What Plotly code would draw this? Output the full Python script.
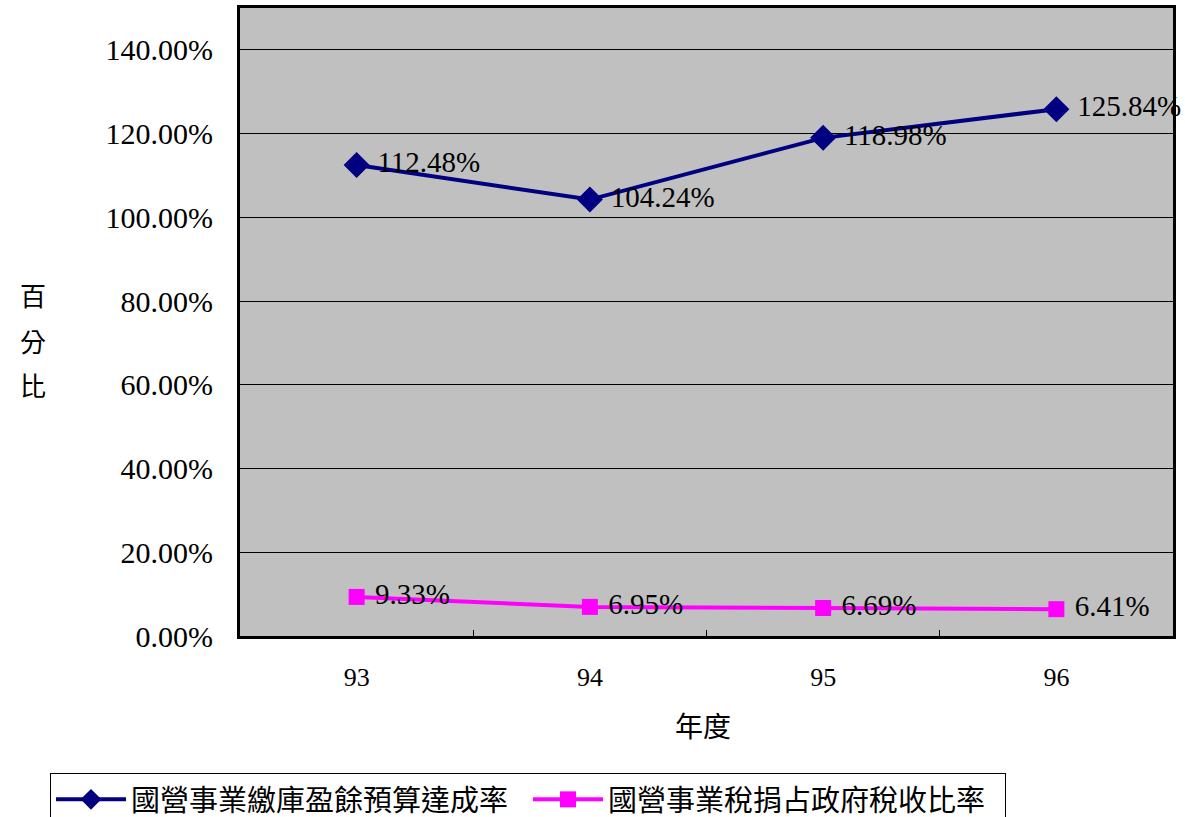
import plotly.graph_objects as go

years = ["93", "94", "95", "96"]
series1_name = "國營事業繳庫盈餘預算達成率"
series1 = [1.1248, 1.0424, 1.1898, 1.2584]
series2_name = "國營事業稅捐占政府稅收比率"
series2 = [0.0933, 0.0695, 0.0669, 0.0641]

serif = "Liberation Serif, Times New Roman, serif"
cjk = "Noto Sans CJK TC, Noto Sans CJK SC, sans-serif"

fig = go.Figure()
fig.add_trace(go.Scatter(
    x=years, y=series1, name=series1_name, mode="lines+markers+text",
    line=dict(color="#000080", width=4),
    marker=dict(symbol="diamond", size=20, color="#000080"),
    text=[" " + f"{v*100:.2f}%" for v in series1], textposition="middle right",
    textfont=dict(family=serif, size=29, color="black"),
    cliponaxis=False,
))
fig.add_trace(go.Scatter(
    x=years, y=series2, name=series2_name, mode="lines+markers+text",
    line=dict(color="#FF00FF", width=4),
    marker=dict(symbol="square", size=16, color="#FF00FF"),
    text=[" " + f"{v*100:.2f}%" for v in series2], textposition="middle right",
    textfont=dict(family=serif, size=29, color="black"),
    cliponaxis=False,
))

W = 933
H = 628
annos = []
for i, ch in enumerate(["百", "分", "比"]):
    annos.append(dict(
        text=ch, x=(33 - 240) / W, xref="paper", y=(636 - (295 + 45 * i)) / H, yref="paper",
        showarrow=False, font=dict(family=cjk, size=26, color="black"),
        xanchor="center", yanchor="middle",
    ))
annos.append(dict(
    text="年度", x=(703 - 240) / W, xref="paper", y=(636 - 725) / H, yref="paper",
    showarrow=False, font=dict(family=cjk, size=28, color="black"),
    xanchor="center", yanchor="middle",
))

fig.update_layout(
    width=1185, height=817,
    margin=dict(l=240, r=12, t=8, b=181, autoexpand=False),
    paper_bgcolor="white", plot_bgcolor="#C0C0C0",
    showlegend=True,
    legend=dict(
        orientation="h", x=(50 - 240) / W, y=(636 - 773) / H, xanchor="left", yanchor="top",
        bordercolor="black", borderwidth=1, bgcolor="white",
        font=dict(family=cjk, size=29, color="black"),
        itemwidth=70, tracegroupgap=0,
        entrywidth=392, entrywidthmode="pixels",
    ),
    xaxis=dict(
        type="category", range=[-0.5, 3.5], tickson="boundaries",
        ticks="inside", ticklen=6, tickcolor="black",
        showline=True, linecolor="black", linewidth=3, mirror=True,
        showgrid=False, tickfont=dict(family=serif, size=26, color="black"),
        ticklabelstandoff=16,
    ),
    yaxis=dict(
        range=[0, 1.5], dtick=0.2, tickformat=".2%",
        ticks="inside", ticklen=5, tickcolor="black",
        showline=True, linecolor="black", linewidth=3, mirror=True,
        showgrid=True, gridcolor="black", gridwidth=1, zeroline=False,
        tickfont=dict(family=serif, size=30, color="black"),
        ticklabelstandoff=18,
    ),
    annotations=annos,
)
fig.write_html("out.html", config={"displayModeBar": False, "staticPlot": True})

with open("out.html", "r", encoding="utf-8") as f:
    html = f.read()
html = html.replace("<body>", '<body style="margin:0;padding:0;overflow:hidden">', 1)
with open("out.html", "w", encoding="utf-8") as f:
    f.write(html)
